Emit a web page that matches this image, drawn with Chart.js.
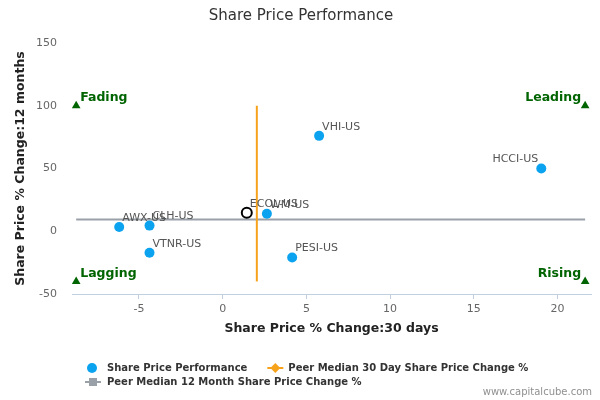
<!DOCTYPE html>
<html><head><meta charset="utf-8">
<script src="https://cdn.jsdelivr.net/npm/chart.js@4.4.0/dist/chart.umd.min.js"></script>
<style>html,body{margin:0;padding:0;background:#fff}#wrap{width:600px;height:400px;position:relative}</style>
</head><body><div id="wrap"><canvas id="c" width="600" height="400"></canvas></div>
<script>
// ---- data ----
const tickers   = ['VHI-US', 'HCCI-US', 'WM-US', 'AWX-US', 'CLH-US', 'VTNR-US', 'PESI-US'];
const change30d = [5.76, 19.03, 2.64, -6.18, -4.37, -4.37, 4.15];
const change12m = [76, 50, 14, 3.4, 4.5, -17.2, -20.9];
const companyTicker = ['ECOL-US'];
const companyChange30d = [1.44];
const companyChange12m = [14.8];
const peerMedian30d = 2.04;
const peerMedian12m = 9.3;
const medianSpan12m = [-40, 100];       // y extent of 30-day median line
const medianSpan30d = [-8.75, 21.65];   // x extent of 12-month median line
const quadrantNames = ['Fading', 'Leading', 'Lagging', 'Rising'];
const quadrantX = [-8.75, 21.65, -8.75, 21.65];
const quadrantY = [100, 100, -40, -40];
const seriesNames = ['Share Price Performance', 'Peer Median 30 Day Share Price Change %', 'Peer Median 12 Month Share Price Change %'];

const BLUE = '#0ba3ef', ORANGE = '#f7a21b', GRAY = '#9aa0a8', GREEN = '#006400';
const FONT = "'DejaVu Sans', Verdana, sans-serif";

const labelPlugin = {
  id: 'labels',
  afterDatasetsDraw(chart) {
    const ctx = chart.ctx;
    ctx.save();
    ctx.font = '11px ' + FONT;
    ctx.fillStyle = '#555';
    ctx.textBaseline = 'middle';
    const drawSet = (idx, names) => {
      const meta = chart.getDatasetMeta(idx);
      meta.data.forEach((pt, i) => {
        const name = names[i];
        const w = ctx.measureText(name).width;
        let x = pt.x + 3;
        if (x + w > chart.chartArea.right - 6) { ctx.textAlign = 'right'; x = pt.x - 3; }
        else ctx.textAlign = 'left';
        ctx.fillText(name, x, pt.y - 9);
      });
    };
    drawSet(0, tickers);
    drawSet(1, companyTicker);
    // quadrant labels
    ctx.font = 'bold 12.5px ' + FONT;
    ctx.fillStyle = GREEN;
    const qm = chart.getDatasetMeta(4);
    qm.data.forEach((pt, i) => {
      const right = quadrantX[i] > 0;
      ctx.textAlign = right ? 'right' : 'left';
      ctx.fillText(quadrantNames[i], right ? pt.x - 4 : pt.x + 4, pt.y - 8);
    });
    ctx.restore();
  },
  afterDraw(chart) {
    const ctx = chart.ctx;
    ctx.save();
    // title
    ctx.font = '15px ' + FONT;
    ctx.fillStyle = '#333';
    ctx.textAlign = 'center';
    ctx.textBaseline = 'middle';
    ctx.fillText('Share Price Performance', 301, 16);
    // legend
    ctx.font = 'bold 10px ' + FONT;
    ctx.textAlign = 'left';
    ctx.fillStyle = '#333';
    const y1 = 368, y2 = 382;
    ctx.beginPath(); ctx.arc(92, y1, 5, 0, Math.PI * 2); ctx.fillStyle = BLUE; ctx.fill();
    ctx.fillStyle = '#333';
    ctx.fillText(seriesNames[0], 107, y1);
    let x2 = 107 + ctx.measureText(seriesNames[0]).width + 20;
    ctx.strokeStyle = ORANGE; ctx.lineWidth = 2;
    ctx.beginPath(); ctx.moveTo(x2, y1); ctx.lineTo(x2 + 16, y1); ctx.stroke();
    ctx.fillStyle = ORANGE;
    ctx.beginPath(); ctx.moveTo(x2 + 8, y1 - 5); ctx.lineTo(x2 + 13, y1); ctx.lineTo(x2 + 8, y1 + 5); ctx.lineTo(x2 + 3, y1); ctx.closePath(); ctx.fill();
    ctx.fillStyle = '#333';
    ctx.fillText(seriesNames[1], x2 + 21, y1);
    ctx.strokeStyle = GRAY;
    ctx.beginPath(); ctx.moveTo(85, y2); ctx.lineTo(101, y2); ctx.stroke();
    ctx.fillStyle = GRAY; ctx.fillRect(89, y2 - 4, 8, 8);
    ctx.fillStyle = '#333';
    ctx.fillText(seriesNames[2], 107, y2);
    // credit
    ctx.font = '10px ' + FONT;
    ctx.fillStyle = '#909090';
    ctx.textAlign = 'right';
    ctx.fillText('www.capitalcube.com', 592, 392);
    ctx.restore();
  }
};

new Chart(document.getElementById('c'), {
  type: 'scatter',
  data: {
    datasets: [
      { label: seriesNames[0], order: 0,
        data: change30d.map((x, i) => ({ x, y: change12m[i] })),
        backgroundColor: BLUE, borderWidth: 0, pointRadius: 5, pointHoverRadius: 5 },
      { label: companyTicker[0], order: 0,
        data: companyChange30d.map((x, i) => ({ x, y: companyChange12m[i] })),
        backgroundColor: '#fff', borderColor: '#000', borderWidth: 2, pointRadius: 5 },
      { label: seriesNames[1], type: 'line', order: 2,
        data: medianSpan12m.map(y => ({ x: peerMedian30d, y })),
        borderColor: ORANGE, borderWidth: 2, pointRadius: 0, showLine: true, fill: false },
      { label: seriesNames[2], type: 'line', order: 3,
        data: medianSpan30d.map(x => ({ x, y: peerMedian12m })),
        borderColor: GRAY, borderWidth: 2, pointRadius: 0, showLine: true, fill: false },
      { label: 'quadrants', order: 1,
        data: quadrantX.map((x, i) => ({ x, y: quadrantY[i] })),
        pointStyle: 'triangle', pointRadius: 5, backgroundColor: GREEN, borderColor: GREEN, borderWidth: 0 }
    ]
  },
  options: {
    responsive: false,
    animation: false,
    layout: { padding: { left: 0, right: 9, top: 43, bottom: 62 } },
    plugins: { legend: { display: false }, tooltip: { enabled: false }, title: { display: false } },
    scales: {
      x: {
        type: 'linear', min: -9, max: 22,
        afterFit: s => { s.height = 44; },
        ticks: { stepSize: 5, includeBounds: false, color: '#666', font: { family: FONT, size: 11 }, padding: 4 },
        grid: { display: true, drawOnChartArea: false, drawTicks: true, tickLength: 5, color: '#c0d0e0' },
        border: { display: true, color: '#c0d0e0', width: 1 },
        title: { display: true, text: 'Share Price % Change:30 days', color: '#222',
                 font: { family: FONT, size: 12.5, weight: 'bold' }, padding: { top: 0, bottom: 2 } }
      },
      y: {
        type: 'linear', min: -50, max: 150,
        afterFit: s => { s.width = 72; },
        ticks: { stepSize: 50, color: '#666', font: { family: FONT, size: 11 }, padding: 15 },
        grid: { display: false, drawTicks: false },
        border: { display: false },
        title: { display: true, text: 'Share Price % Change:12 months', color: '#222',
                 font: { family: FONT, size: 12.5, weight: 'bold' }, padding: { top: 13, bottom: 0 } }
      }
    }
  },
  plugins: [labelPlugin]
});
</script>
</body></html>
